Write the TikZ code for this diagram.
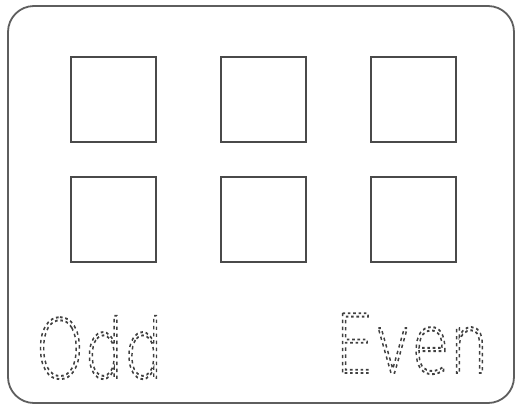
\documentclass[tikz,border=0pt]{standalone}
\usepackage{fontspec}
\newfontfamily\tracefont{DejaVu Sans ExtraLight}
\newcommand{\tracetext}[1]{\special{pdf:literal direct q 1 Tr [3.4 3.6] 0 d 1.9 w 0.25 G}#1\special{pdf:literal direct 0 Tr Q}}
\definecolor{framegray}{HTML}{5E5E5E}
\definecolor{boxgray}{HTML}{4A4A4A}
\tikzset{
  frame/.style={draw=framegray, line width=1.8pt, rounded corners=26pt},
  sq/.style={draw=boxgray, line width=2pt, minimum size=85pt, inner sep=0pt, outer sep=0pt},
  word/.style={inner sep=0pt, xscale=0.76, font=\tracefont\fontsize{82}{82}\selectfont}
}
\begin{document}
\begin{tikzpicture}[x=1pt,y=-1pt]
\useasboundingbox (0,0) rectangle (516,405);
\draw[frame] (8,6) rectangle (514,403);
\node[sq] (a1) at (113.5,99.5) {};
\node[sq] (a2) at (263.5,99.5) {};
\node[sq] (a3) at (413,99.5) {};
\node[sq] (b1) at (113.5,219.5) {};
\node[sq] (b2) at (263.5,219.5) {};
\node[sq] (b3) at (413,219.5) {};
\node[word, anchor=base] (odd) at (99.5,378) {\tracetext{Odd}};
\node[word, anchor=base] (even) at (412,373) {\tracetext{Even}};
\end{tikzpicture}
\end{document}
